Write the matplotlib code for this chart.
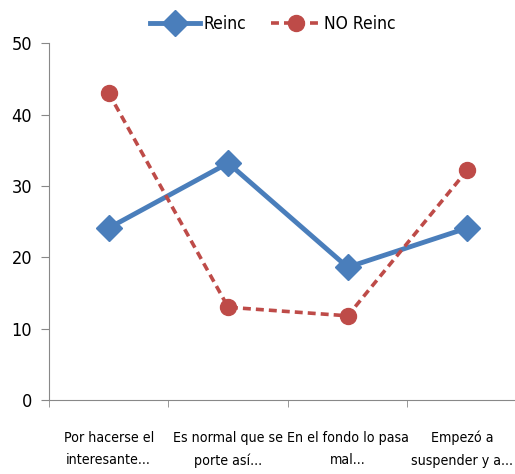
import matplotlib
matplotlib.use("Agg")
import matplotlib.pyplot as plt
from matplotlib.ticker import FixedLocator
from matplotlib.transforms import ScaledTranslation

categories = ["Por hacerse el\ninteresante...", "Es normal que se\nporte así...",
              "En el fondo lo pasa\nmal...", "Empezó a\nsuspender y a..."]
reinc = [24.1, 33.2, 18.6, 24.1]
no_reinc = [43.0, 13.0, 11.8, 32.2]
yticks = [0, 10, 20, 30, 40, 50]

plt.rcParams["font.family"] = ["DejaVu Sans"]
plt.rcParams["font.stretch"] = "condensed"

fig = plt.figure(figsize=(5.15, 4.74), dpi=100)
ax = fig.add_axes([0.095, 0.156, 0.905, 0.753])

x = range(len(categories))
ax.plot(x, reinc, color="#4a7ebb", lw=3.5, marker="D", ms=13, label="Reinc")
ax.plot(x, no_reinc, color="#be4b48", lw=2.6, ls=(0, (2.2, 1.4)), marker="o", ms=11.5,
        label="NO Reinc")

ax.set_ylim(0, 50)
ax.set_xlim(-0.5, 3.4)
ax.set_yticks(yticks)
ax.set_xticks(list(x))
ax.set_xticklabels(categories, linespacing=1.8)
ax.xaxis.set_minor_locator(FixedLocator([-0.5, 0.5, 1.5, 2.5, 3.5]))
ax.tick_params(axis="x", which="major", length=0, pad=22, labelsize=10.2)
ax.tick_params(axis="x", which="minor", length=5, color="#888888")
ax.tick_params(axis="y", length=6, color="#888888", labelsize=13, pad=6)
for s in ["top", "right"]:
    ax.spines[s].set_visible(False)
for s in ["left", "bottom"]:
    ax.spines[s].set_color("#888888")

# keep the last label inside the figure edge
last = ax.get_xticklabels()[-1]
last.set_transform(last.get_transform() + ScaledTranslation(-0.05, 0, fig.dpi_scale_trans))

fig.legend(loc="center", bbox_to_anchor=(0.53, 0.95), ncol=2, frameon=False,
           fontsize=12.5, handlelength=2.9, handletextpad=0.2, columnspacing=1.4)

fig.savefig("out.png", dpi=100)
